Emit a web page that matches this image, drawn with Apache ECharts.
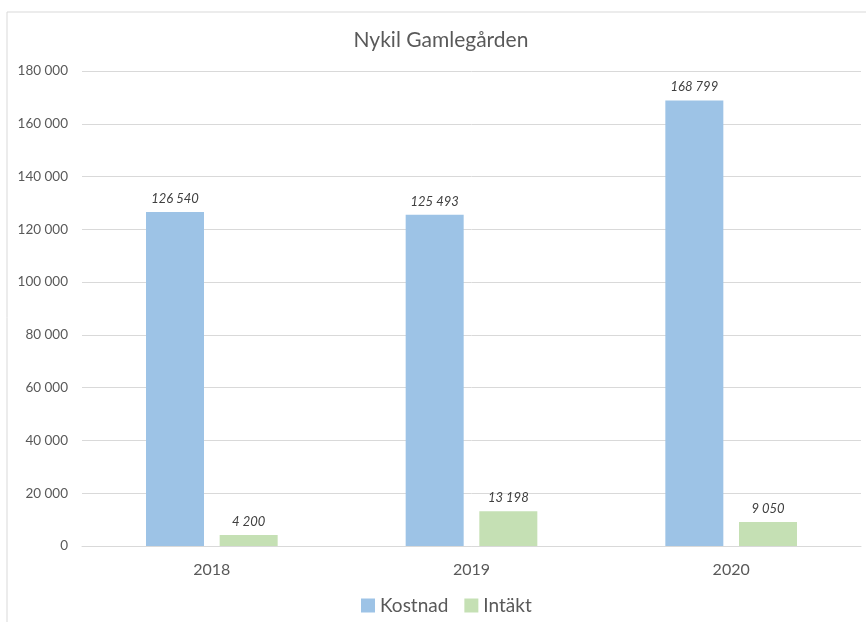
<!DOCTYPE html>
<html>
<head>
<meta charset="utf-8">
<script src="https://cdn.jsdelivr.net/npm/echarts@6/dist/echarts.min.js"></script>
<style>
  html, body { margin: 0; padding: 0; background: #fff; }
  #chart { width: 866px; height: 622px; }
</style>
</head>
<body>
<div id="chart"></div>
<script>
// data
const years = ['2018', '2019', '2020'];
const kostnad = [126540, 125493, 168799];
const intakt = [4200, 13198, 9050];
const yTicks = [0, 20000, 40000, 60000, 80000, 100000, 120000, 140000, 160000, 180000];

const FONT = 'Lato, "Open Sans", sans-serif';

// 126540 -> "126 540"
function fmt (v) {
  return String(Math.round(v)).replace(/\B(?=(\d{3})+(?!\d))/g, ' ');
}

const chart = echarts.init(document.getElementById('chart'));

const labelStyle = {
  show: true,
  position: 'top',
  distance: 7,
  fontStyle: 'italic',
  fontFamily: FONT,
  fontSize: 13,
  color: '#404040',
  formatter: p => fmt(p.value)
};

chart.setOption({
  animation: false,
  textStyle: { fontFamily: FONT },
  title: {
    text: 'Nykil Gamlegården',
    left: 441,
    textAlign: 'center',
    top: 30,
    padding: 0,
    textStyle: { fontFamily: FONT, fontSize: 21, fontWeight: 'normal', color: '#595959' }
  },
  graphic: [{
    // outer chart frame
    type: 'rect',
    shape: { x: 7, y: 12, width: 880, height: 640 },
    style: { fill: 'none', stroke: '#d9d9d9', lineWidth: 1 },
    silent: true
  }],
  legend: {
    data: ['Kostnad', 'Intäkt'],
    left: 361,
    top: 596,
    padding: 0,
    itemWidth: 14,
    itemHeight: 14,
    itemGap: 16,
    icon: 'rect',
    textStyle: { fontFamily: FONT, fontSize: 19, color: '#595959' }
  },
  grid: {
    left: 82,
    right: 5,
    top: 71,
    bottom: 76,
    containLabel: false
  },
  xAxis: {
    type: 'category',
    data: years,
    axisLine: { lineStyle: { color: '#d9d9d9' } },
    axisTick: { show: false },
    axisLabel: { fontFamily: FONT, fontSize: 16, color: '#595959', margin: 16 }
  },
  yAxis: {
    type: 'value',
    min: yTicks[0],
    max: yTicks[yTicks.length - 1],
    interval: yTicks[1] - yTicks[0],
    axisLine: { show: false },
    axisTick: { show: false },
    splitLine: { lineStyle: { color: '#d9d9d9' } },
    axisLabel: {
      fontFamily: FONT,
      fontSize: 13.5,
      color: '#595959',
      margin: 14,
      formatter: v => fmt(v)
    }
  },
  series: [
    {
      name: 'Kostnad',
      type: 'bar',
      data: kostnad,
      barWidth: 58,
      barGap: '27%',
      itemStyle: { color: '#9dc3e6' },
      label: labelStyle
    },
    {
      name: 'Intäkt',
      type: 'bar',
      data: intakt,
      barWidth: 58,
      itemStyle: { color: '#c5e0b4' },
      label: labelStyle
    }
  ]
});
</script>
</body>
</html>
